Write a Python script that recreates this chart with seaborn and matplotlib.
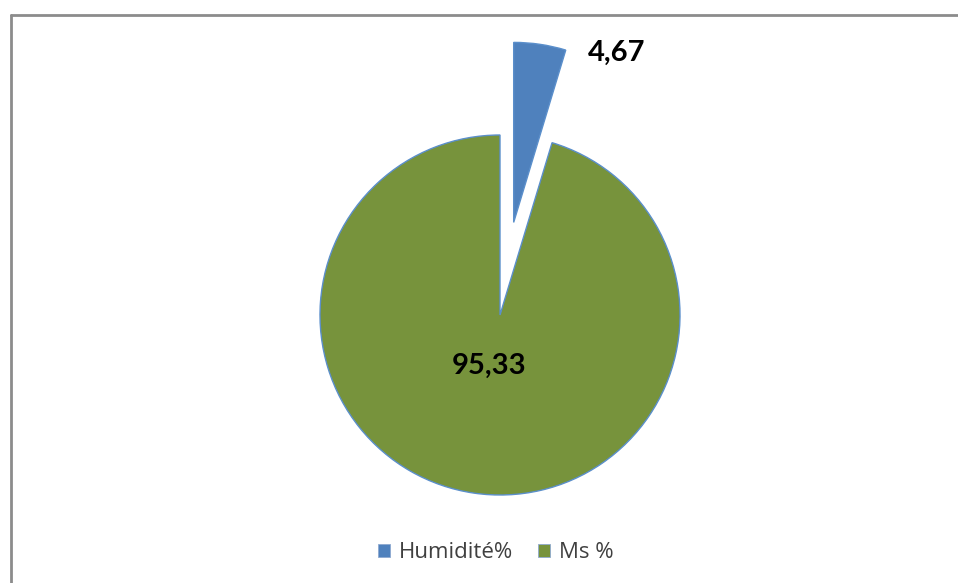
import matplotlib
matplotlib.use("Agg")
import matplotlib.pyplot as plt
import seaborn as sns
from matplotlib.patches import Patch
from matplotlib.lines import Line2D

# Composition values (%)
categories = ["Humidité%", "Ms %"]
values = [4.67, 95.33]
colors = ["#4F81BD", "#77933C"]
explode = [0.52, 0.0]

sns.set_theme(style="white")
plt.rcParams["font.family"] = ["Open Sans", "DejaVu Sans"]

fig = plt.figure(figsize=(9.58, 5.83), dpi=100)
ax = fig.add_axes([0, 0, 1, 1])

wedges, _ = ax.pie(
    values,
    colors=colors,
    explode=explode,
    startangle=90,
    counterclock=False,
    radius=1.0,
    wedgeprops=dict(edgecolor="#5B8FCB", linewidth=1.0),
)

# pixel-based view: pie centre at (500, 315), radius 180 px
r_px = 180.0
cx, cy = 500.0, 583 - 315.0
ax.set_xlim(-cx / r_px, (958 - cx) / r_px)
ax.set_ylim(-cy / r_px, (583 - cy) / r_px)
ax.set_aspect("equal")
ax.axis("off")

def fmt(v):
    return f"{v:.2f}".replace(".", ",")

label_pos = [(0.65, 1.455), (-0.06, -0.28)]
for v, (x, y) in zip(values, label_pos):
    ax.text(x, y, fmt(v), ha="center", va="center",
            fontsize=21, fontweight="bold", color="#000000",
            family=["Lato", "DejaVu Sans"])

handles = [Patch(facecolor=c, edgecolor="#8EA9D0", linewidth=0.6) for c in colors]
fig.legend(handles, categories, loc="center", bbox_to_anchor=(496 / 958, 1 - 553 / 583),
           ncol=2, frameon=False, fontsize=16, handlelength=0.55, handleheight=0.55,
           handletextpad=0.4, columnspacing=1.1, labelcolor="#404040")

# chart frame (left and top edges)
frame_kw = dict(color="#8C8C8C", linewidth=2.0, transform=fig.transFigure)
fig.add_artist(Line2D([10.5 / 958, 10.5 / 958], [0, 1 - 14.5 / 583], **frame_kw))
fig.add_artist(Line2D([10.5 / 958, 1], [1 - 14.5 / 583, 1 - 14.5 / 583], **frame_kw))

fig.savefig("out.png", dpi=100, facecolor="white")
